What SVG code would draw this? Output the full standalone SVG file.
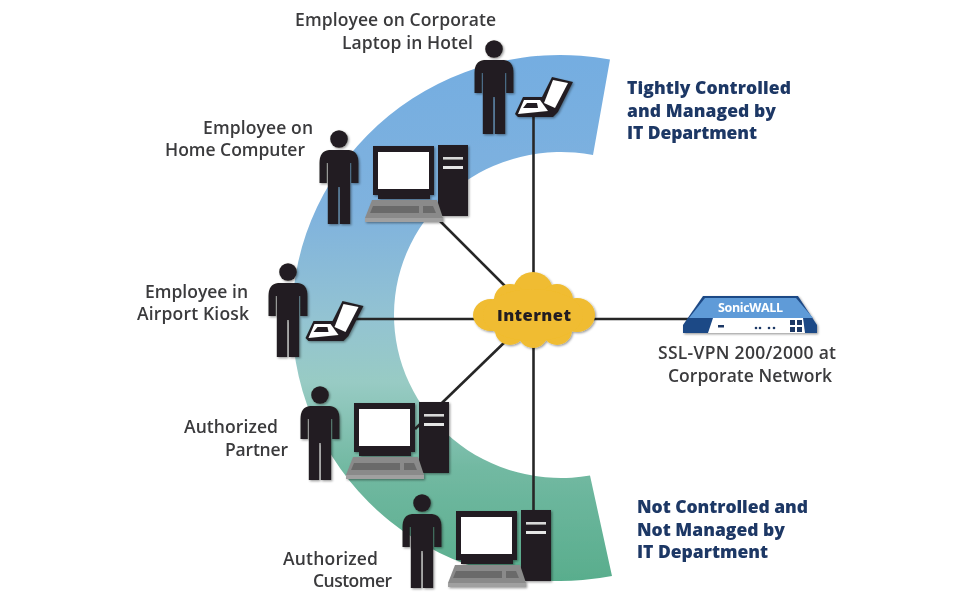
<svg xmlns="http://www.w3.org/2000/svg" width="980" height="600" viewBox="0 0 980 600">
<style>
text{font-family:"Open Sans","Liberation Sans",sans-serif}
.lb{font-size:17.5px;fill:#3a3a3c;font-weight:600}
.hd{font-size:17.5px;fill:#1f3765;font-weight:800}
.ln{stroke:#262626;stroke-width:2.6;fill:none}
.k{fill:#231f20}
.w{fill:#fff}
</style>
<defs>
<linearGradient id="arc" x1="0" y1="50" x2="0" y2="585" gradientUnits="userSpaceOnUse">
<stop offset="0" stop-color="#74ade1"/><stop offset=".3" stop-color="#7fb2de"/><stop offset=".5" stop-color="#93c3d2"/><stop offset=".62" stop-color="#98cbc4"/><stop offset=".78" stop-color="#72b9a2"/><stop offset="1" stop-color="#58ad8c"/>
</linearGradient>
<filter id="sh" x="-20%" y="-20%" width="140%" height="140%"><feDropShadow dx="1.2" dy="1.2" stdDeviation="1.2" flood-color="#000" flood-opacity=".4"/></filter>
<filter id="soft" x="0" y="0" width="100%" height="100%"><feGaussianBlur stdDeviation=".45"/></filter>
<g id="person" filter="url(#sh)">
<circle class="k" cx="0" cy="0" r="8.8"/>
<path class="k" d="M-10,11H10Q19.5,12 19.5,24V44H12.2V24H11.2V85H0.8V48H-0.8V85H-11.2V24H-12.2V44H-19.5V24Q-19.5,12 -10,11Z"/>
</g>
<g id="computer" filter="url(#sh)">
<path class="k" d="M0,0H61V49H57V53H5V49H0Z"/>
<rect class="w" x="5" y="6" width="51" height="37"/>
<rect class="k" x="65" y="-1" width="30" height="71"/>
<rect x="70" y="11" width="20" height="2.6" fill="#d8d8d8"/>
<rect x="70" y="20" width="20" height="3" fill="#e6e6e6"/>
<path d="M-1,54H64L70,72H-8Z" fill="#8a8a8a"/>
<rect x="-8" y="72" width="78" height="4" fill="#a0a0a0"/>
<path d="M0,60H46V67H-3Z" fill="#6b6b6b"/>
<path d="M50,60H60L63,67H50Z" fill="#6b6b6b"/>
</g>
<g id="laptop" filter="url(#sh)">
<path class="k" d="M515,114L523,97H542L552,77L573,82L558,112L553,117H518Z"/>
<path class="w" d="M553,80L568,83L555,108L544,103Z"/>
<path class="w" d="M518,114L524,100H540L548,111Z"/>
<path class="k" d="M523,108L527,103H537L538,108Z"/>
</g>
</defs>
<rect width="980" height="600" fill="#fff"/>
<g filter="url(#soft)">
<path id="band" d="M610,59.6A268,263 0 1 0 612,576L590,475.5A167,163 0 1 1 593,155Z" fill="url(#arc)"/>
<g id="connectors" class="ln">
<line x1="533.5" y1="112" x2="533.5" y2="290"/>
<line x1="440" y1="221" x2="510" y2="291"/>
<line x1="355" y1="319" x2="690" y2="319"/>
<line x1="415" y1="429" x2="510" y2="337"/>
<line x1="533.5" y1="340" x2="533.5" y2="512"/>
</g>
<g id="n-hotel"><use href="#person" x="494" y="49"/><use href="#laptop"/>
<text class="lb" x="295" y="26" textLength="201">Employee on Corporate</text>
<text class="lb" x="342" y="49" textLength="131">Laptop in Hotel</text></g>
<g id="n-home"><use href="#person" x="339" y="139"/><use href="#computer" x="373" y="146"/>
<text class="lb" x="203" y="134" textLength="110">Employee on</text>
<text class="lb" x="165" y="156" textLength="140">Home Computer</text></g>
<g id="n-kiosk"><use href="#person" x="288" y="272"/><use href="#laptop" transform="translate(-209.5,224)"/>
<text class="lb" x="145" y="298" textLength="103">Employee in</text>
<text class="lb" x="137" y="320" textLength="112">Airport Kiosk</text></g>
<g id="n-partner"><use href="#person" x="320" y="395"/><use href="#computer" x="354" y="403"/>
<text class="lb" x="184" y="433" textLength="94">Authorized</text>
<text class="lb" x="225" y="456" textLength="63">Partner</text></g>
<g id="n-customer"><use href="#person" x="422" y="503"/><use href="#computer" x="456" y="511"/>
<text class="lb" x="283" y="565" textLength="95">Authorized</text>
<text class="lb" x="313" y="587" textLength="79">Customer</text></g>
<g id="n-internet">
<g filter="url(#sh)" fill="#f0bc30">
<circle cx="533" cy="292" r="20"/><circle cx="510" cy="300" r="16"/><circle cx="557" cy="300" r="16"/>
<ellipse cx="491" cy="315" rx="18" ry="16"/><ellipse cx="577" cy="315" rx="18" ry="17"/>
<circle cx="510" cy="330" r="15"/><circle cx="533" cy="333" r="15"/><circle cx="557" cy="330" r="15"/>
<ellipse cx="533" cy="315" rx="50" ry="26"/>
</g>
<text x="497" y="321" textLength="74" font-size="16.5" font-weight="800" fill="#231f20">Internet</text>
</g>
<g id="n-sonicwall">
<g filter="url(#sh)">
<path d="M703,296H798L817,325V333H683V325Z" fill="#1f4a86"/>
<path d="M705,298H796L813,318H689Z" fill="#5f9bd8"/>
<path class="w" d="M713,318H803L805,333H708Z"/>
</g>
<rect x="718" y="325" width="6" height="2.5" fill="#1f3765"/>
<g fill="#1f3765"><circle cx="756" cy="328" r="1.3"/><circle cx="760" cy="328" r="1.3"/><circle cx="769" cy="328" r="1.3"/><circle cx="774" cy="328" r="1.3"/>
<rect x="790" y="320" width="5" height="5"/><rect x="797" y="320" width="5" height="5"/><rect x="790" y="327" width="5" height="5"/><rect x="797" y="327" width="5" height="5"/></g>
<text x="718" y="312" textLength="65" font-size="12.5" font-weight="700" fill="#fff">SonicWALL</text>
<text class="lb" x="658" y="359" textLength="178">SSL-VPN 200/2000 at</text>
<text class="lb" x="668" y="382" textLength="164">Corporate Network</text>
</g>
<g id="legend-top">
<text class="hd" x="627" y="94" textLength="164">Tightly Controlled</text>
<text class="hd" x="627" y="117" textLength="149">and Managed by</text>
<text class="hd" x="627" y="139" textLength="130">IT Department</text>
</g>
<g id="legend-bottom">
<text class="hd" x="637" y="513" textLength="171">Not Controlled and</text>
<text class="hd" x="637" y="536" textLength="148">Not Managed by</text>
<text class="hd" x="637" y="558" textLength="131">IT Department</text>
</g>
</g>
</svg>
